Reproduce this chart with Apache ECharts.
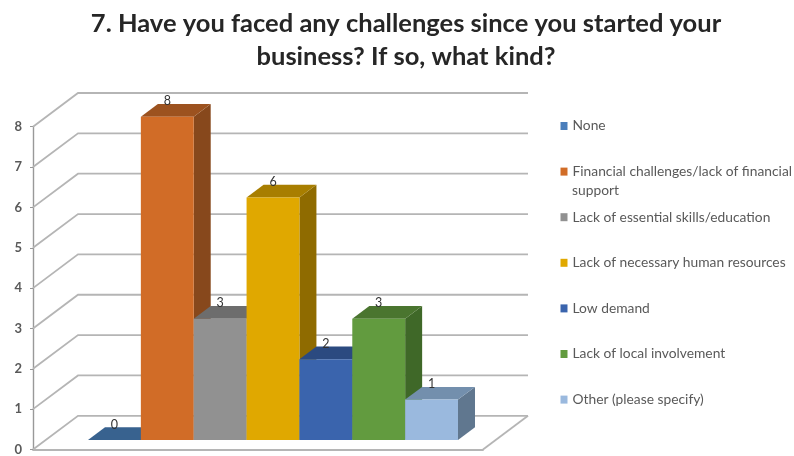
<!DOCTYPE html>
<html><head><meta charset="utf-8">
<style>html,body{margin:0;padding:0;background:#fff}#main{width:794px;height:456px;filter:blur(0.7px)}</style>
<script src="https://cdn.jsdelivr.net/npm/echarts@6/dist/echarts.min.js"></script>
</head><body><div id="main"></div>
<script>
const titleLines = ["7. Have you faced any challenges since you started your", "business? If so, what kind?"];
const categories = ["None", "Financial challenges/lack of financial support", "Lack of essential skills/education", "Lack of necessary human resources", "Low demand", "Lack of local involvement", "Other (please specify)"];
const values = [0, 8, 3, 6, 2, 3, 1];
const yTicks = [0, 1, 2, 3, 4, 5, 6, 7, 8];
const faceColors = ["#4a7ebb", "#d16c27", "#919191", "#e0a800", "#3a64ad", "#629b3f", "#9ab9de"];
const topColors = ["#38628f", "#9c521f", "#6d6d6d", "#a87e00", "#2b4a80", "#4a752f", "#738fad"];
const sideColors = ["#305578", "#87481c", "#5e5e5e", "#8f6b00", "#25406e", "#3f6828", "#60778f"];
const wallDx = 45, wallDy = -33.7, barDx = 17, barDy = -12.7;
const lineGray = "#b5b5b5", textGray = "#595959";

const wallSeries = {
  type: "custom", xAxisIndex: 0, yAxisIndex: 0, silent: true, clip: false, z: 1,
  data: yTicks.map(v => [0, v]),
  renderItem(p, api) {
    const v = api.value(1);
    const a = api.coord([0, v]), b = api.coord([1, v]);
    const back = [a[0] + wallDx, a[1] + wallDy], backR = [b[0] + wallDx, b[1] + wallDy];
    const style = { stroke: lineGray, lineWidth: 1.8, fill: null };
    const kids = [{ type: "polyline", shape: { points: [a, back, backR] }, style }];
    if (v === 0) kids.push({ type: "line", shape: { x1: b[0], y1: b[1], x2: backR[0], y2: backR[1] }, style });
    return { type: "group", children: kids };
  }
};

const barSeries = categories.map((name, i) => ({
  name, type: "custom", xAxisIndex: 1, yAxisIndex: 1, clip: false, z: 2 + i,
  itemStyle: { color: faceColors[i] },
  data: [[i, values[i]]],
  renderItem(p, api) {
    const idx = api.value(0), val = api.value(1);
    const c = api.coord([idx, val]), base = api.coord([idx, 0]);
    const w = api.size([1, 0])[0];
    const l = c[0] - w / 2, r = c[0] + w / 2, t = c[1], b = base[1];
    return { type: "group", children: [
      { type: "polygon", shape: { points: [[r, t], [r + barDx, t + barDy], [r + barDx, b + barDy], [r, b]] }, style: { fill: sideColors[i] } },
      { type: "polygon", shape: { points: [[l, t], [l + barDx, t + barDy], [r + barDx, t + barDy], [r, t]] }, style: { fill: topColors[i] } },
      { type: "rect", shape: { x: l, y: t, width: w, height: b - t }, style: { fill: faceColors[i] } },
      { type: "text", z2: 50, style: { text: String(val), x: c[0], y: t - 15.5, align: "center", verticalAlign: "middle", fill: "#333", font: "12.5px Lato" } }
    ] };
  }
}));

const chart = echarts.init(document.getElementById("main"), null, { renderer: "canvas" });
chart.setOption({
  animation: false,
  backgroundColor: "#fff",
  title: {
    text: titleLines.join("\n"), left: 401, top: 3, textAlign: "center",
    textStyle: { fontFamily: "Lato", fontWeight: "bold", fontSize: 25.5, lineHeight: 32.5, color: "#262626" }
  },
  grid: [
    { left: 33, width: 450, top: 126.7, bottom: 5.3 },
    { left: 88, width: 370, top: 116.7, bottom: 16 }
  ],
  xAxis: [
    { gridIndex: 0, type: "value", min: 0, max: 1, show: true, splitLine: { show: false }, axisTick: { show: false }, axisLabel: { show: false }, axisLine: { show: true, onZero: false, lineStyle: { color: lineGray, width: 1.8 } } },
    { gridIndex: 1, type: "category", data: categories, show: false }
  ],
  yAxis: [
    { gridIndex: 0, type: "value", min: 0, max: 8, interval: 1, splitLine: { show: false },
      axisLine: { show: true, lineStyle: { color: "#999", width: 1.4 } },
      axisTick: { show: true, length: 3, lineStyle: { color: "#999" } },
      axisLabel: { margin: 11, color: textGray, fontFamily: "Lato", fontSize: 13, fontWeight: "bold" } },
    { gridIndex: 1, type: "value", min: 0, max: 8, show: false, splitLine: { show: false } }
  ],
  legend: {
    orient: "vertical", left: 560.5, top: 119, padding: 0, itemWidth: 7, itemHeight: 8, itemGap: 31.6, icon: "rect",
    selectedMode: false, data: categories,
    formatter: n => n === categories[1] ? "Financial challenges/lack of financial" : n,
    textStyle: { fontFamily: "Lato", fontSize: 13.8, color: textGray }
  },
  graphic: [{ type: "text", left: 572, top: 184, style: { text: "support", font: "13.8px Lato", fill: textGray } }],
  series: [wallSeries].concat(barSeries)
});
</script></body></html>
